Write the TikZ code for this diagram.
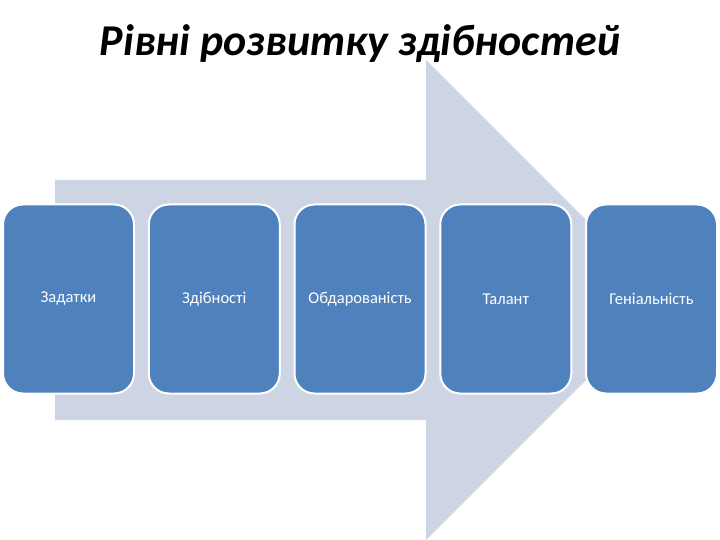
\documentclass[tikz,border=0pt]{standalone}
\usepackage{fontspec}
\setmainfont{Carlito}
\usetikzlibrary{positioning}
\definecolor{arrowgray}{HTML}{CDD5E4}
\definecolor{boxblue}{HTML}{4F81BD}

\begin{document}
\begin{tikzpicture}[x=1pt,y=-1pt]

\tikzstyle{box} = [rectangle, rounded corners=20pt, minimum height=189pt, minimum width=131pt, inner sep=0pt, text centered, draw=white, line width=2pt, fill=boxblue, text=white, font=\fontsize{16.5}{18}\selectfont]
\useasboundingbox (0,0) rectangle (720,540);

% big arrow behind the boxes
\fill[arrowgray] (55,180) -- (426,180) -- (426,60) -- (666,300) -- (426,540) -- (426,420) -- (55,420) -- cycle;

\node (title) [anchor=base, font=\fontsize{44}{50}\selectfont\bfseries\itshape] at (360,56) {Рівні розвитку здібностей};

\node (zadatky) [box, anchor=west] at (2,299) {Задатки};
\node (zdibnosti) [box, right=12.75pt of zadatky] {Здібності};
\node (obdarovanist) [box, right=12.75pt of zdibnosti] {Обдарованість};
\node (talant) [box, right=12.75pt of obdarovanist] {Талант};
\node (genialnist) [box, right=12.75pt of talant] {Геніальність};
\end{tikzpicture}
\end{document}
